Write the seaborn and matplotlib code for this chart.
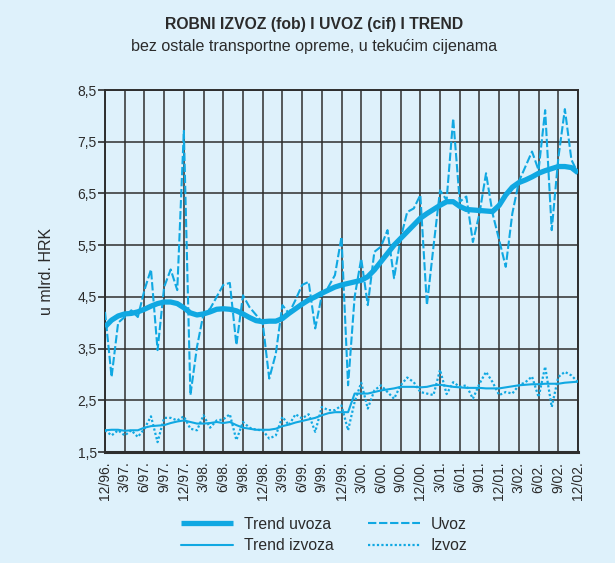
import matplotlib
matplotlib.use("Agg")
import matplotlib.pyplot as plt
import seaborn as sns
import pandas as pd
from matplotlib.ticker import FuncFormatter

# Monthly series, 12/96 .. 12/02 (73 months), bn HRK
uvoz = [4.21, 2.95, 4.00, 4.11, 4.24, 4.11, 4.63, 5.03, 3.47, 4.69, 5.03, 4.63,
        7.71, 2.60, 3.53, 4.18, 4.27, 4.50, 4.73, 4.77, 3.57, 4.53, 4.30, 4.15,
        4.00, 2.92, 3.40, 4.34, 4.18, 4.44, 4.73, 4.79, 3.89, 4.53, 4.69, 4.92,
        5.66, 2.79, 4.50, 5.24, 4.34, 5.37, 5.47, 5.79, 4.86, 5.63, 6.14, 6.21,
        6.47, 4.34, 5.47, 6.56, 6.37, 7.95, 6.34, 6.44, 5.56, 6.11, 6.89, 6.11,
        5.60, 5.08, 6.11, 6.73, 7.02, 7.31, 6.95, 8.11, 5.79, 7.18, 8.13, 7.15,
        6.89]

trend_uvoza = [3.92, 4.05, 4.13, 4.17, 4.18, 4.21, 4.26, 4.32, 4.37, 4.40, 4.40, 4.37,
               4.29, 4.19, 4.15, 4.17, 4.21, 4.26, 4.27, 4.26, 4.23, 4.17, 4.10, 4.04,
               4.02, 4.03, 4.03, 4.08, 4.18, 4.27, 4.36, 4.44, 4.50, 4.57, 4.63, 4.69,
               4.73, 4.76, 4.79, 4.82, 4.89, 5.02, 5.18, 5.34, 5.50, 5.63, 5.76, 5.89,
               6.02, 6.11, 6.19, 6.27, 6.34, 6.34, 6.25, 6.19, 6.18, 6.17, 6.16, 6.15,
               6.27, 6.47, 6.62, 6.71, 6.76, 6.82, 6.89, 6.94, 6.98, 7.02, 7.02, 7.00,
               6.90]

izvoz = [1.92, 1.82, 1.92, 1.82, 1.92, 1.79, 1.95, 2.19, 1.69, 2.16, 2.16, 2.11,
         2.19, 1.95, 1.92, 2.21, 1.97, 2.11, 2.13, 2.23, 1.73, 2.08, 1.97, 1.93,
         1.92, 1.76, 1.82, 2.18, 2.02, 2.23, 2.15, 2.23, 1.89, 2.37, 2.31, 2.31,
         2.40, 1.92, 2.47, 2.84, 2.34, 2.69, 2.79, 2.66, 2.53, 2.79, 2.94, 2.85,
         2.66, 2.63, 2.60, 3.09, 2.62, 2.85, 2.76, 2.79, 2.53, 2.82, 3.05, 2.85,
         2.60, 2.66, 2.63, 2.79, 2.85, 2.96, 2.56, 3.15, 2.37, 2.95, 3.05, 2.98,
         2.85]

trend_izvoza = [1.92, 1.93, 1.93, 1.91, 1.92, 1.92, 1.97, 2.00, 2.01, 2.02, 2.06, 2.09,
                2.11, 2.08, 2.05, 2.05, 2.06, 2.08, 2.06, 2.08, 2.02, 1.97, 1.95, 1.93,
                1.93, 1.93, 1.95, 2.00, 2.03, 2.07, 2.10, 2.13, 2.16, 2.21, 2.25, 2.27,
                2.27, 2.27, 2.63, 2.63, 2.63, 2.66, 2.69, 2.71, 2.73, 2.76, 2.76, 2.76,
                2.75, 2.76, 2.79, 2.80, 2.78, 2.76, 2.75, 2.74, 2.74, 2.74, 2.73, 2.73,
                2.73, 2.75, 2.77, 2.79, 2.80, 2.81, 2.81, 2.82, 2.82, 2.82, 2.84, 2.85,
                2.86]

tick_labels = ["12/96.", "3/97.", "6/97.", "9/97.", "12/97.", "3/98.", "6/98.",
               "9/98.", "12/98.", "3/99.", "6/99.", "9/99.", "12/99.", "3/00.",
               "6/00.", "9/00.", "12/00.", "3/01.", "6/01.", "9/01.", "12/01.",
               "3/02.", "6/02.", "9/02.", "12/02."]

y_ticks = [1.5, 2.5, 3.5, 4.5, 5.5, 6.5, 7.5, 8.5]

BG = "#def1fb"
BLUE = "#10a8e2"
GRID = "#2e2e2e"
TEXT = "#2b2b2b"

df = pd.DataFrame({
    "month": range(len(uvoz)),
    "uvoz": uvoz,
    "trend_uvoza": trend_uvoza,
    "izvoz": izvoz,
    "trend_izvoza": trend_izvoza,
})

sns.set_theme(style="ticks")
plt.rcParams["font.family"] = ["Liberation Sans", "DejaVu Sans"]

fig = plt.figure(figsize=(6.15, 5.63), dpi=100, facecolor=BG)
ax = fig.add_axes([105 / 615, 1 - 452 / 563, 473 / 615, 362 / 563])
ax.set_facecolor(BG)

sns.lineplot(data=df, x="month", y="trend_uvoza", ax=ax, color=BLUE, lw=3.8,
             label="Trend uvoza", zorder=5, solid_capstyle="butt")
sns.lineplot(data=df, x="month", y="trend_izvoza", ax=ax, color=BLUE, lw=1.5,
             label="Trend izvoza", zorder=5)
sns.lineplot(data=df, x="month", y="uvoz", ax=ax, color=BLUE, lw=1.5,
             label="Uvoz", zorder=4)
sns.lineplot(data=df, x="month", y="izvoz", ax=ax, color=BLUE, lw=1.6,
             label="Izvoz", zorder=4)

lines = ax.get_lines()
lines[2].set_linestyle((0, (4, 1.3)))
lines[3].set_linestyle((0, (1, 1.0)))

ax.set_xlim(0, len(uvoz) - 1)
ax.set_ylim(1.5, 8.5)
ax.set_xticks(range(0, len(uvoz), 3))
ax.set_xticklabels(tick_labels, rotation=90, fontsize=10, color=TEXT,
                   va="top", ha="center")
ax.set_yticks(y_ticks)
ax.yaxis.set_major_formatter(FuncFormatter(lambda v, p: f"{v:.1f}".replace(".", ",")))
ax.tick_params(axis="y", length=5, width=1.2, color=GRID, labelsize=10,
               labelcolor=TEXT, pad=1)
ax.tick_params(axis="x", length=0, pad=7)
ax.grid(True, color=GRID, lw=1.1)
ax.set_axisbelow(True)
for s in ax.spines.values():
    s.set_color(GRID)
    s.set_linewidth(1.4)
ax.spines["bottom"].set_linewidth(2.2)

ax.set_xlabel("")
ax.set_ylabel("u mlrd. HRK", fontsize=11.5, color=TEXT, labelpad=17)

handles, labels = ax.get_legend_handles_labels()
ax.legend_.remove()
fig.legend(handles, labels, ncol=2, loc="center", bbox_to_anchor=(0.527, 0.05),
           frameon=False, fontsize=11.3, handlelength=3.3, columnspacing=2.2,
           labelspacing=0.42, handletextpad=0.7, labelcolor=TEXT)

fig.text(0.51, 1 - 25 / 563, "ROBNI IZVOZ (fob) I UVOZ (cif) I TREND",
         ha="center", va="center", fontsize=11.3, fontweight="bold", color=TEXT)
fig.text(0.51, 1 - 46 / 563, "bez ostale transportne opreme, u tekućim cijenama",
         ha="center", va="center", fontsize=11.6, color=TEXT)

fig.savefig("out.png", dpi=100, facecolor=BG)
